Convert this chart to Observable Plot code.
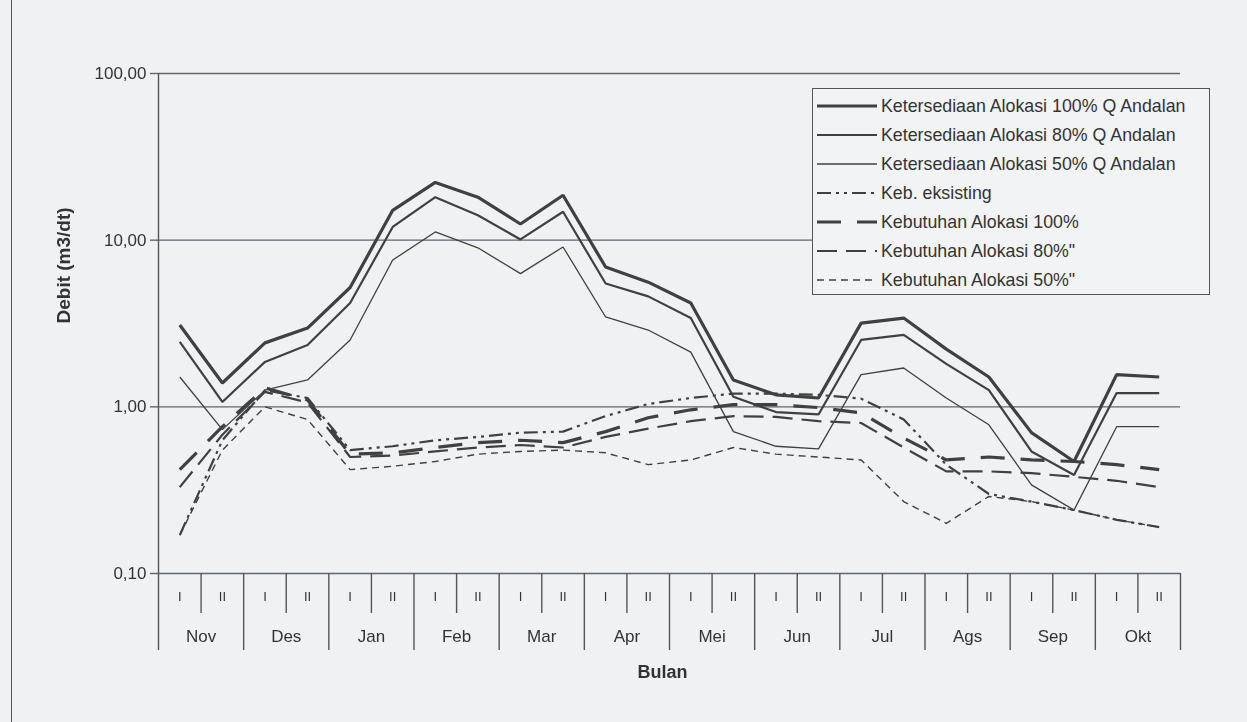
<!DOCTYPE html>
<html><head><meta charset="utf-8">
<script src="https://cdn.jsdelivr.net/npm/d3@7"></script>
<script src="https://cdn.jsdelivr.net/npm/@observablehq/plot@0.6"></script>
<style>
html,body{margin:0;padding:0;background:#eff1f3;}
#wrap{position:relative;width:1247px;height:722px;overflow:hidden;font-family:"Liberation Sans",Arial,sans-serif;color:#333;}
#frame{position:absolute;left:11px;top:0;width:0;height:722px;border-left:1.6px solid #555;}
#chart{position:absolute;left:0;top:0;will-change:transform;}
#legend{position:absolute;left:812px;top:88px;width:398px;height:207px;border:1.6px solid #555;background:#f2f3f5;box-sizing:border-box;}
.row{position:absolute;left:4px;height:22px;display:flex;align-items:center;font-size:17.8px;white-space:nowrap;color:#333;}
.row svg{margin-right:2px;}
</style></head>
<body>
<div id="wrap"><div id="frame"></div><div id="chart"></div><div id="legend"></div></div>
<script>
// ---- data ----
const months = ["Nov","Des","Jan","Feb","Mar","Apr","Mei","Jun","Jul","Ags","Sep","Okt"];
const halfMonths = ["I","II"];
const yTicks = [0.1, 1, 10, 100];
const yTickLabels = ["0,10","1,00","10,00","100,00"];
const yLabel = "Debit (m3/dt)";
const xLabel = "Bulan";

const seriesNames = [
  "Ketersediaan Alokasi 100% Q Andalan",
  "Ketersediaan Alokasi 80% Q Andalan",
  "Ketersediaan Alokasi 50% Q Andalan",
  "Keb. eksisting",
  "Kebutuhan Alokasi 100%",
  "Kebutuhan Alokasi 80%\"",
  "Kebutuhan Alokasi 50%\""
];

// values per half-month period (Nov I ... Okt II)
const q100 = [3.10, 1.39, 2.42, 2.97, 5.2, 15.1, 22.2, 18.1, 12.5, 18.6, 6.9, 5.6, 4.2, 1.45, 1.18, 1.13, 3.18, 3.41, 2.22, 1.51, 0.70, 0.47, 1.56, 1.51];
const q80  = [2.45, 1.07, 1.86, 2.35, 4.2, 12.0, 18.1, 14.1, 10.1, 14.8, 5.5, 4.6, 3.41, 1.15, 0.93, 0.90, 2.52, 2.70, 1.81, 1.26, 0.54, 0.39, 1.21, 1.21];
const q50  = [1.51, 0.73, 1.26, 1.45, 2.52, 7.6, 11.2, 9.0, 6.3, 9.1, 3.46, 2.89, 2.13, 0.71, 0.58, 0.56, 1.56, 1.71, 1.13, 0.78, 0.34, 0.24, 0.76, 0.76];
const kebEksisting = [0.17, 0.63, 1.26, 1.13, 0.55, 0.58, 0.63, 0.66, 0.70, 0.71, 0.88, 1.04, 1.13, 1.20, 1.20, 1.18, 1.12, 0.84, 0.45, 0.30, 0.27, 0.24, 0.21, 0.19];
const keb100 = [0.42, 0.76, 1.30, 1.10, 0.52, 0.53, 0.57, 0.61, 0.63, 0.61, 0.71, 0.86, 0.96, 1.03, 1.03, 0.99, 0.92, 0.65, 0.48, 0.50, 0.48, 0.47, 0.45, 0.42];
const keb80  = [0.33, 0.68, 1.23, 1.06, 0.50, 0.51, 0.54, 0.57, 0.59, 0.57, 0.66, 0.74, 0.82, 0.88, 0.87, 0.82, 0.80, 0.57, 0.41, 0.41, 0.40, 0.38, 0.36, 0.33];
const keb50  = [0.17, 0.55, 1.00, 0.84, 0.42, 0.44, 0.47, 0.52, 0.54, 0.55, 0.53, 0.45, 0.48, 0.57, 0.52, 0.50, 0.48, 0.27, 0.20, 0.29, 0.27, 0.24, 0.21, 0.19];

// ---- styles ----
const lineColor = "#404040";
const gridColor = "#5e6670";
const textColor = "#333333";
const styles = [
  {w: 3.2, dash: null},
  {w: 2.2, dash: null},
  {w: 1.3, dash: null},
  {w: 2.2, dash: "14,5,3,5,3,5"},
  {w: 3.2, dash: "24,16"},
  {w: 2.2, dash: "20,9"},
  {w: 1.4, dash: "7,5"}
];
const seriesValues = [q100, q80, q50, kebEksisting, keb100, keb80, keb50];
const series = seriesNames.map((name, k) => ({name, values: seriesValues[k], ...styles[k]}));

const nPeriods = months.length * halfMonths.length;
const periodCenters = d3.range(nPeriods).map(i => i + 0.5);
const monthEdges = d3.range(0, nPeriods + 1, 2);
const monthCenters = d3.range(1, nPeriods, 2);

const lineMarks = series.map(s => Plot.line(
  s.values.map((v, i) => ({x: i + 0.5, v})),
  {x: "x", y: "v", stroke: lineColor, strokeWidth: s.w, strokeDasharray: s.dash, strokeLinejoin: "miter", strokeLinecap: "butt"}
));

const chart = Plot.plot({
  width: 1247, height: 722,
  marginLeft: 158, marginRight: 67, marginTop: 73, marginBottom: 149,
  style: {background: "transparent", fontFamily: "'Liberation Sans', Arial, sans-serif", color: textColor, overflow: "visible"},
  x: {domain: [0, nPeriods], label: null},
  y: {type: "log", domain: [yTicks[0], yTicks[yTicks.length - 1]], label: null},
  marks: [
    Plot.gridY({ticks: yTicks, stroke: gridColor, strokeOpacity: 1, strokeWidth: 1.4}),
    Plot.axisY({ticks: yTicks, tickSize: 8, tickPadding: 4, stroke: gridColor, strokeWidth: 1.4, fill: textColor,
      tickFormat: d => yTickLabels[yTicks.indexOf(d)], fontSize: 17, label: null}),
    Plot.ruleX([0], {stroke: "#555", strokeWidth: 1.4}),
    Plot.axisX({ticks: monthEdges, tickSize: 77, stroke: "#555", strokeWidth: 1.4, tickFormat: () => "", label: null}),
    Plot.axisX({ticks: monthCenters, tickSize: 40, stroke: "#555", strokeWidth: 1.4, tickFormat: () => "", label: null}),
    Plot.axisX({ticks: periodCenters, tickSize: 0, tickPadding: 18, fontSize: 13, fill: textColor,
      tickFormat: d => halfMonths[Math.floor(d) % 2], label: null}),
    Plot.axisX({ticks: monthCenters, tickSize: 0, tickPadding: 56, fontSize: 17, fill: textColor,
      tickFormat: d => months[(d - 1) / 2], label: null}),
    ...lineMarks,
    Plot.text([yLabel], {frameAnchor: "left", dx: -95, rotate: -90, fontWeight: "bold", fontSize: 19, fill: textColor}),
    Plot.text([xLabel], {frameAnchor: "bottom", dx: -7, dy: 104, fontWeight: "bold", fontSize: 18, fill: textColor})
  ]
});
document.getElementById("chart").appendChild(chart);

// ---- legend ----
const legend = document.getElementById("legend");
series.forEach((s, k) => {
  const row = document.createElement("div");
  row.className = "row";
  row.style.top = (6 + k * 29) + "px";
  const svgNS = "http://www.w3.org/2000/svg";
  const svg = document.createElementNS(svgNS, "svg");
  svg.setAttribute("width", 62); svg.setAttribute("height", 12);
  const ln = document.createElementNS(svgNS, "line");
  ln.setAttribute("x1", 0); ln.setAttribute("x2", 60); ln.setAttribute("y1", 6); ln.setAttribute("y2", 6);
  ln.setAttribute("stroke", lineColor); ln.setAttribute("stroke-width", s.w);
  if (s.dash) ln.setAttribute("stroke-dasharray", s.dash);
  svg.appendChild(ln);
  row.appendChild(svg);
  const span = document.createElement("span");
  span.textContent = s.name;
  row.appendChild(span);
  legend.appendChild(row);
});
</script>
</body></html>
